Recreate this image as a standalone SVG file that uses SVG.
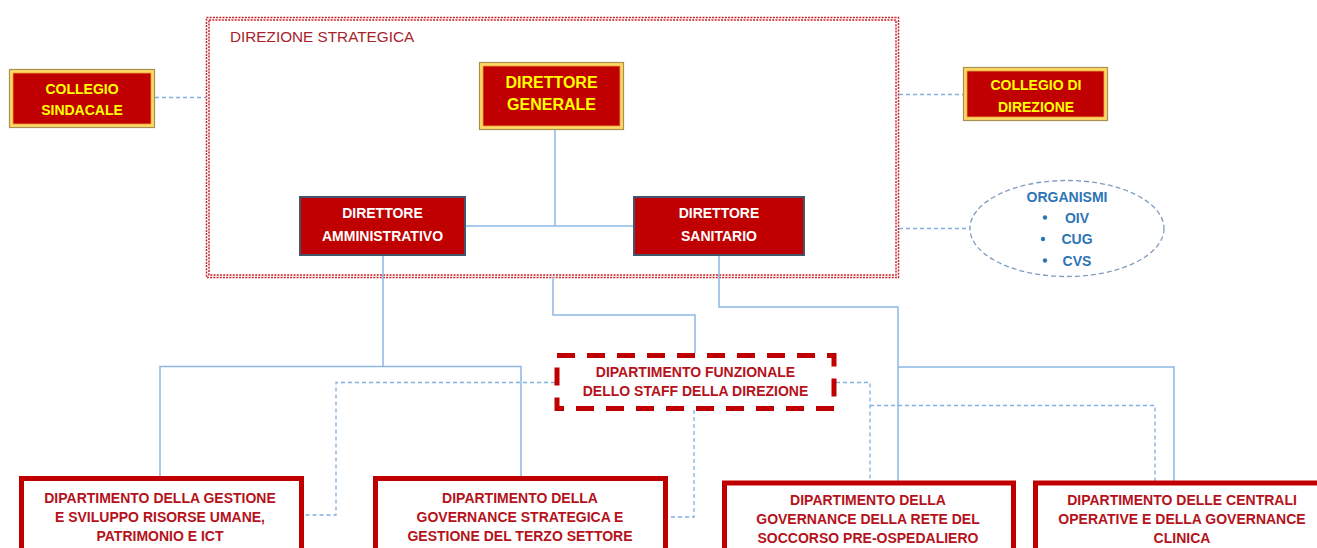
<svg xmlns="http://www.w3.org/2000/svg" width="1317" height="548" viewBox="0 0 1317 548">
<style>
  .t { font-family: "Liberation Sans", Arial, sans-serif; font-weight: bold; text-anchor: middle; }
  .yel { fill: #ffff00; font-size: 14px; }
  .wh { fill: #ffffff; font-size: 14px; }
  .red { fill: #b5121b; font-size: 14px; }
  .blu { fill: #2e75b6; font-size: 14px; }
  .sol { fill: none; stroke: #8db8e4; stroke-width: 1.5; }
  .dsh { fill: none; stroke: #7fb0e0; stroke-width: 1.3; stroke-dasharray: 4 3; }
  .gold-out { fill: #ffd966; stroke: #a89050; stroke-width: 1.2; }
  .gold-in { fill: #c00000; stroke: #e8a33a; stroke-width: 0.8; }
  .dir { fill: #c00000; stroke: #44546a; stroke-width: 2; }
  .dep { fill: #ffffff; stroke: #c00000; stroke-width: 5; }
  .frame { fill: none; stroke: #c8262e; stroke-width: 1.5; stroke-dasharray: 2 1.2; }
</style>

<g id="direzione-strategica">
  <rect class="frame" x="206.5" y="17.5" width="692" height="260"/>
  <rect class="frame" x="209" y="20" width="687" height="255"/>
  <text x="230" y="42" style="font-family:'Liberation Sans',Arial,sans-serif;font-size:15.3px;fill:#a8232b">DIREZIONE STRATEGICA</text>
</g>

<g id="connectors">
  <path class="sol" d="M555,130 V226"/>
  <path class="sol" d="M465,226 H633"/>
  <path class="sol" d="M383,255 V366.5 H160 V477"/>
  <path class="sol" d="M383,366.5 H521 V477"/>
  <path class="sol" d="M553,277 V315 H695 V353"/>
  <path class="sol" d="M719,255 V307 H898 V481"/>
  <path class="sol" d="M898,367 H1174 V481"/>
  <path class="dsh" d="M155,97.5 H206"/>
  <path class="dsh" d="M899,94.5 H963"/>
  <path class="dsh" d="M899,228.5 H970"/>
  <path class="dsh" d="M555,382.5 H336 V515 H304"/>
  <path class="dsh" d="M694,410 V517 H668"/>
  <path class="dsh" d="M836,382.5 H870 V481"/>
  <path class="dsh" d="M870,405.5 H1155 V481"/>
</g>

<g id="collegio-sindacale">
  <rect class="gold-out" x="9.5" y="69.5" width="145" height="58"/>
  <rect class="gold-in" x="13" y="73" width="138" height="51"/>
  <text class="t yel" x="82" y="94">COLLEGIO</text>
  <text class="t yel" x="82" y="115">SINDACALE</text>
</g>

<g id="direttore-generale">
  <rect class="gold-out" x="479.5" y="62.5" width="144" height="67"/>
  <rect class="gold-in" x="483" y="66" width="137" height="60"/>
  <text class="t yel" x="551.5" y="88" style="font-size:16px">DIRETTORE</text>
  <text class="t yel" x="551.5" y="110" style="font-size:16px">GENERALE</text>
</g>

<g id="collegio-di-direzione">
  <rect class="gold-out" x="963.5" y="67.5" width="144" height="53"/>
  <rect class="gold-in" x="967" y="71" width="137" height="46"/>
  <text class="t yel" x="1036" y="90">COLLEGIO DI</text>
  <text class="t yel" x="1036" y="112">DIREZIONE</text>
</g>

<g id="direttore-amministrativo">
  <rect class="dir" x="300" y="197" width="165" height="58"/>
  <text class="t wh" x="382.5" y="218">DIRETTORE</text>
  <text class="t wh" x="382.5" y="241">AMMINISTRATIVO</text>
</g>

<g id="direttore-sanitario">
  <rect class="dir" x="634" y="197" width="170" height="58"/>
  <text class="t wh" x="719" y="218">DIRETTORE</text>
  <text class="t wh" x="719" y="241">SANITARIO</text>
</g>

<g id="organismi">
  <ellipse cx="1067" cy="228.5" rx="97" ry="48" fill="#ffffff" stroke="#7f9cc0" stroke-width="1.3" stroke-dasharray="5 3"/>
  <text class="t blu" x="1067" y="201.5">ORGANISMI</text>
  <circle cx="1045" cy="217.5" r="2.2" fill="#2e75b6"/>
  <text class="t blu" x="1077" y="222.5">OIV</text>
  <circle cx="1043" cy="239" r="2.2" fill="#2e75b6"/>
  <text class="t blu" x="1077" y="244">CUG</text>
  <circle cx="1045" cy="260.5" r="2.2" fill="#2e75b6"/>
  <text class="t blu" x="1077" y="265.5">CVS</text>
</g>

<g id="staff-direzione">
  <rect x="557" y="355.5" width="277" height="53" fill="#ffffff" stroke="#c00000" stroke-width="5" stroke-dasharray="18 12"/>
  <text class="t red" x="695.5" y="377">DIPARTIMENTO FUNZIONALE</text>
  <text class="t red" x="695.5" y="396">DELLO STAFF DELLA DIREZIONE</text>
</g>

<g id="dip-risorse-umane">
  <rect class="dep" x="21.5" y="478.5" width="280" height="80"/>
  <text class="t red" x="160" y="503">DIPARTIMENTO DELLA GESTIONE</text>
  <text class="t red" x="160" y="522">E SVILUPPO RISORSE UMANE,</text>
  <text class="t red" x="160" y="541">PATRIMONIO E ICT</text>
</g>

<g id="dip-governance-strategica">
  <rect class="dep" x="375.5" y="478.5" width="290" height="80"/>
  <text class="t red" x="520" y="503">DIPARTIMENTO DELLA</text>
  <text class="t red" x="520" y="522">GOVERNANCE STRATEGICA E</text>
  <text class="t red" x="520" y="541">GESTIONE DEL TERZO SETTORE</text>
</g>

<g id="dip-soccorso">
  <rect class="dep" x="724.5" y="483" width="289" height="80"/>
  <text class="t red" x="868" y="505">DIPARTIMENTO DELLA</text>
  <text class="t red" x="868" y="524">GOVERNANCE DELLA RETE DEL</text>
  <text class="t red" x="868" y="543">SOCCORSO PRE-OSPEDALIERO</text>
</g>

<g id="dip-centrali-operative">
  <rect class="dep" x="1035.5" y="483" width="292" height="80"/>
  <text class="t red" x="1182" y="505">DIPARTIMENTO DELLE CENTRALI</text>
  <text class="t red" x="1182" y="524">OPERATIVE E DELLA GOVERNANCE</text>
  <text class="t red" x="1182" y="543">CLINICA</text>
</g>
</svg>
